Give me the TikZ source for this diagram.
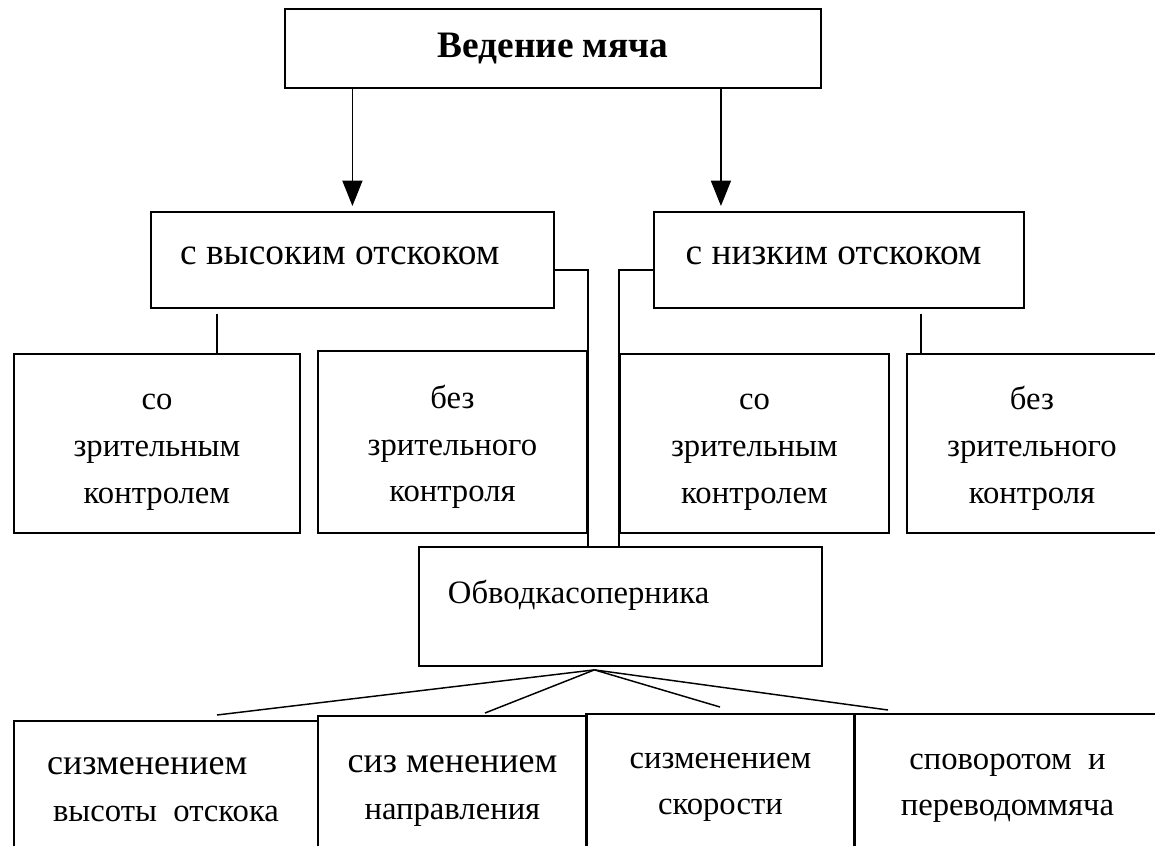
\documentclass[tikz,border=0pt]{standalone}
\usepackage{fontspec}
\setmainfont{Liberation Serif}
\usetikzlibrary{arrows.meta, positioning}

\newcommand{\toprule}{\rule{0pt}{25pt}}

\begin{document}
\begin{tikzpicture}[
    x=0.75pt, y=-0.75pt,
    box/.style={rectangle, draw, line width=1.4pt, inner sep=0pt, align=center,
                anchor=north west, font=\fontsize{24.5}{35}\selectfont},
    size/.style 2 args={minimum width=#1*0.75pt, minimum height=#2*0.75pt},
    head/.style={box, font=\fontsize{28}{35}\selectfont\bfseries},
    kind/.style={box, font=\fontsize{28}{35}\selectfont, text depth=6pt},
    link/.style={line width=1.1pt},
    arr/.style={link, -{Triangle[length=19pt, width=15pt]}},
  ]
  \useasboundingbox (0,0) rectangle (1155,845);
  \clip (0,0) rectangle (1155,845);
  % top
  \node[head, size={536}{79}] (title) at (284,8) {Ведение мяча};
  % bounce height
  \node[kind, size={403}{96}] (high) at (150,211) {с высоким отскоком\hspace*{19pt}};
  \node[kind, size={370}{96}] (low) at (653,211) {с низким отскоком\hspace*{8pt}};
  % visual control
  \node[box, size={286}{179}] (soH) at (13,353) {\toprule со\\зрительным\\контролем};
  \node[box, size={269}{182}] (bezH) at (317,350) {\toprule без\\зрительного\\контроля};
  \node[box, size={269}{179}] (soL) at (619,353) {\toprule со\\зрительным\\контролем};
  \node[box, size={250}{179}] (bezL) at (906,353) {\toprule без\\зрительного\\контроля};
  % beating the opponent
  \node[box, size={403}{119}, text width=258.75pt, align=left,
        text depth=22pt] (obvod) at (418,546) {Обводкасоперника};
  \node[box, size={304}{138}] (izmH) at (13,720)
        {{\fontsize{27}{35}\selectfont сизменением}\hspace*{28pt}\\высоты\ \ отскока};
  \node[box, size={269}{150}] (izmN) at (317,715)
        {{\fontsize{27}{35}\selectfont сиз менением}\\направления};
  \node[box, size={269}{147}] (izmS) at (585,713) {сизменением\\скорости};
  \node[box, size={307}{149}] (povorot) at (853,713) {споворотом\ \ и\\переводоммяча};
  % connectors
  \draw[arr] (title.south -| high.north) -- ([shift={(0,-5)}]high.north);
  \draw[arr] ([shift={(168,0)}]title.south) -- ([shift={(-118,-5)}]low.north);
  \draw[link] ([shift={(0,-39)}]high.south east) -| (obvod.north -| bezH.east);
  \draw[link] ([shift={(0,-39)}]low.south west) -| (obvod.north -| soL.west);
  \draw[link] ([shift={(204,-39)}]soH.north west) -- ++(0,39);
  \draw[link] ([shift={(15,-39)}]bezL.north west) -- ++(0,39);
  \coordinate (fan) at ([shift={(-26,3)}]obvod.south);
  \draw[link] (fan) -- ([shift={(204,-5)}]izmH.north west);
  \draw[link] (fan) -- ([shift={(168,-2)}]izmN.north west);
  \draw[link] (fan) -- ([shift={(135,-6)}]izmS.north west);
  \draw[link] (fan) -- ([shift={(35,-3)}]povorot.north west);
\end{tikzpicture}
\end{document}
